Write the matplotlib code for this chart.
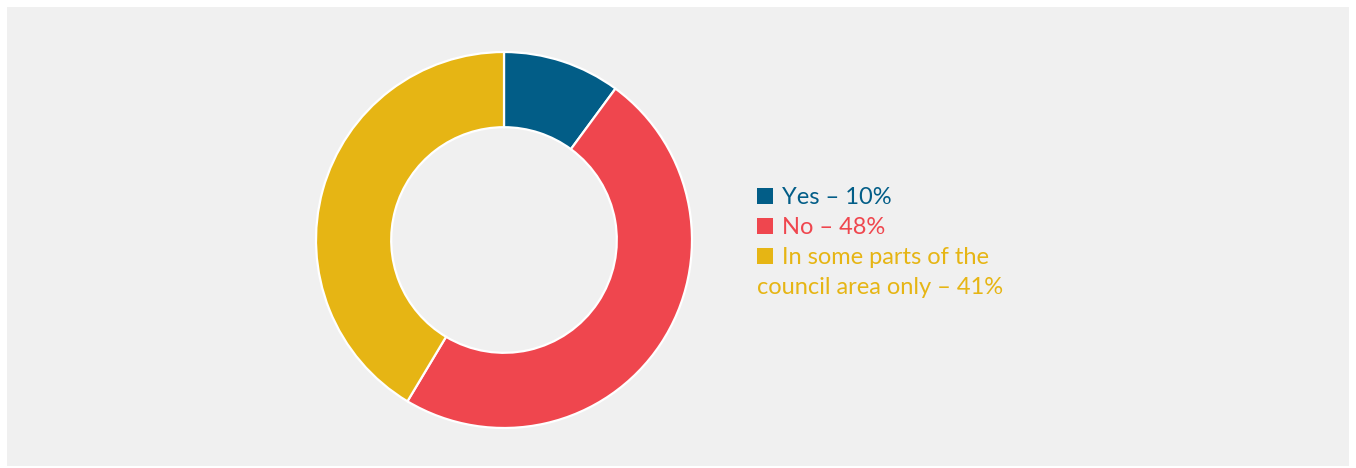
import matplotlib
matplotlib.use("Agg")
import matplotlib.pyplot as plt
from matplotlib.patches import Rectangle

# Survey answers
categories = ["Yes", "No", "In some parts of the council area only"]
shares = [10, 48, 41]
legend_lines = [["Yes \u2013 10%"], ["No \u2013 48%"],
                ["In some parts of the", "council area only \u2013 41%"]]
colors = ["#025d87", "#ef464e", "#e6b514"]

W, H = 1356, 468
DPI = 100
fig = plt.figure(figsize=(W / DPI, H / DPI), dpi=DPI, facecolor="white")


def fx(px):
    return px / W


def fy(py):
    return 1 - py / H


# grey panel
fig.patches.append(Rectangle((fx(7), fy(466)), fx(1349) - fx(7), fy(7) - fy(466),
                             transform=fig.transFigure, facecolor="#f0f0f0",
                             edgecolor="none", zorder=-5))

# donut
cx, cy, r = 504, 240, 188
half = 200
ax = fig.add_axes([fx(cx - half), fy(cy + half), (2 * half) / W, (2 * half) / H])
ax.set_zorder(1)
ax.set_facecolor("none")
ax.pie(shares, colors=colors, startangle=90, counterclock=False, radius=1,
       wedgeprops=dict(width=0.4, edgecolor="white", linewidth=1.6))
lim = half / r
ax.set_xlim(-lim, lim)
ax.set_ylim(-lim, lim)
ax.set_aspect("equal")
ax.axis("off")

# legend
font = dict(family=["Lato", "DejaVu Sans"], weight="normal", fontsize=17)
sq_x, sq = 757, 16
text_x = 782
baseline = 204
step = 30
row = 0
for lines, col in zip(legend_lines, colors):
    y = baseline + row * step
    fig.patches.append(Rectangle((fx(sq_x), fy(y)), sq / W, sq / H,
                                 transform=fig.transFigure, facecolor=col,
                                 edgecolor="none", zorder=2))
    for i, line in enumerate(lines):
        x = text_x if i == 0 else sq_x
        fig.text(fx(x), fy(y + i * step), line, color=col, va="baseline",
                 ha="left", zorder=3, **font)
    row += len(lines)

fig.savefig("out.png", dpi=DPI, facecolor="white")
